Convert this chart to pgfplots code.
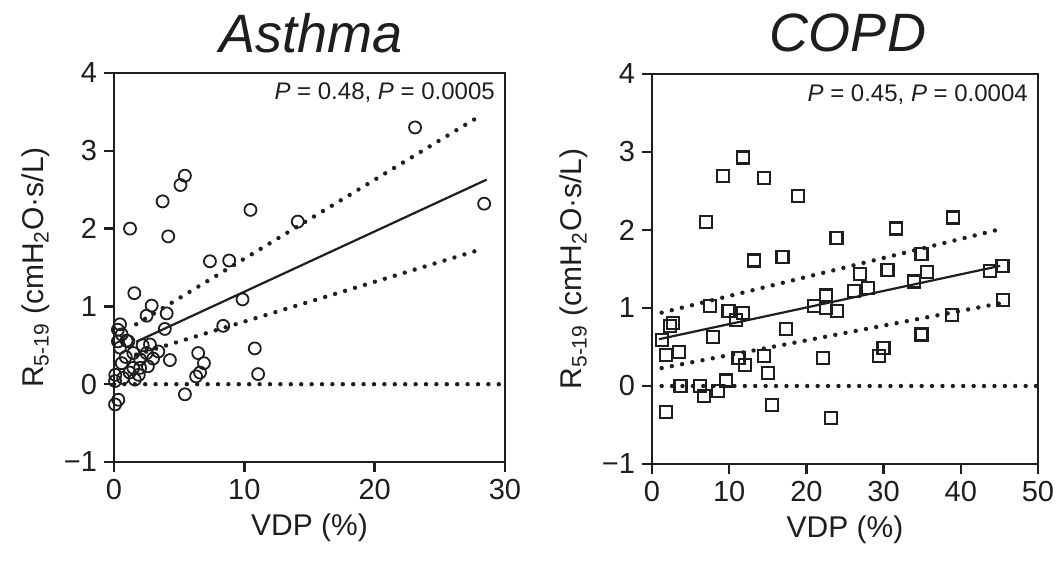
\documentclass[border=0pt]{standalone}
\usepackage{fontspec}
\setmainfont{Liberation Sans}
\usepackage{pgfplots}
\pgfplotsset{compat=1.18}
\definecolor{ink}{HTML}{1E1E1E}

\pgfplotsset{
  panel/.style={
    scale only axis, axis line style={ink, line width=1.3pt},
    tick align=outside, xtick pos=bottom, ytick pos=left,
    major tick length=5pt, tick style={ink, line width=1.2pt},
    ymin=-1, ymax=4, ytick={-1,0,...,4}, yticklabels={−1,0,1,2,3,4},
    tick label style={font=\fontsize{14.5}{16}\selectfont, text=ink},
    label style={font=\fontsize{15}{17}\selectfont, text=ink},
    /pgf/number format/assume math mode=true,
    clip=false,
    xlabel={VDP (\%)},
    ylabel={R\textsubscript{5-19} (cmH\textsubscript{2}O·s/L)},
  },
  dots/.style={ink, line width=2.2pt, dash pattern=on 0pt off 5.2pt, line cap=round},
  fit/.style={ink, line width=1.1pt},
}

\begin{document}
\begin{tikzpicture}
\path[use as bounding box] (0,0) rectangle (528.5pt,-282.5pt);

\node[font=\fontsize{27}{30}\selectfont\itshape, text=ink] at (155.5pt,-16.5pt) {Asthma};
\node[font=\fontsize{27}{30}\selectfont\itshape, text=ink] at (424pt,-16.5pt) {COPD};

\begin{axis}[panel, at={(57pt,-231pt)}, anchor=south west, width=195.5pt, height=194.5pt,
  xmin=0, xmax=30, xtick={0,10,20,30}]
\addplot[dots] coordinates {(0,0) (30,0)};
\addplot[dots] coordinates {(1.7,0.77) (27.9,3.43)};
\addplot[dots] coordinates {(1.7,0.38) (27.9,1.72)};
\addplot[fit] coordinates {(1.7,0.545) (28.6,2.63)};
\addplot[only marks, mark=o, mark size=3pt, mark options={ink, line width=0.9pt}] coordinates {
 (23.1,3.30) (28.4,2.32) (5.44,2.68) (5.1,2.56) (3.73,2.35) (1.23,2.00) (4.16,1.90)
 (10.47,2.24) (14.1,2.09) (7.36,1.58) (8.84,1.59) (1.56,1.17) (9.86,1.09) (2.89,1.01)
 (4.04,0.91) (2.5,0.88) (3.9,0.71) (8.38,0.75) (0.46,0.77) (0.59,0.64) (1.1,0.55)
 (2.76,0.51) (3.4,0.42) (2.5,0.40) (0.46,0.47) (1.48,0.40) (2.0,0.32) (2.6,0.23)
 (0.59,0.27) (1.48,0.21) (4.29,0.31) (6.46,0.40) (6.9,0.27) (6.6,0.15) (6.3,0.10)
 (1.6,0.06) (0.08,0.04) (0.1,0.12) (0.33,-0.20) (0.08,-0.26) (5.44,-0.13) (10.8,0.46)
 (11.06,0.13) (0.3,0.55) (0.9,0.35) (1.9,0.12) (0.3,0.70) (1.2,0.15) (3.0,0.33)
 (0.7,0.08) (2.2,0.50) (0.97,0.56) (2.0,0.21)
};
\node[anchor=north east, font=\fontsize{12}{14}\selectfont, text=ink, inner sep=2pt]
  at (rel axis cs:0.985,0.985) {\textit{P} = 0.48, \textit{P} = 0.0005};
\end{axis}

\begin{axis}[panel, at={(326pt,-232pt)}, anchor=south west, width=193pt, height=195pt,
  xmin=0, xmax=50, xtick={0,10,20,30,40,50}]
\addplot[dots] coordinates {(1.25,0) (50,0)};
\addplot[dots] coordinates {(1.25,0.94) (45.1,2.01)};
\addplot[dots] coordinates {(1.25,0.23) (45.1,1.06)};
\addplot[fit] coordinates {(0.9,0.60) (45.1,1.54)};
\addplot[only marks, mark=square, mark size=3pt, mark options={ink, line width=1.1pt}] coordinates {
 (11.83,2.93) (9.24,2.69) (14.55,2.67) (18.96,2.44) (7.0,2.10) (38.95,2.16) (31.6,2.02)
 (23.9,1.90) (13.2,1.61) (16.9,1.65) (45.4,1.54) (43.8,1.47) (34.9,1.69) (35.6,1.46)
 (33.9,1.34) (30.5,1.49) (26.9,1.44) (28.0,1.26) (26.2,1.22) (22.5,1.16) (21.0,1.03)
 (22.5,1.00) (24.0,0.96) (7.5,1.03) (9.9,0.96) (11.8,0.94) (10.9,0.85) (2.33,0.77)
 (2.76,0.81) (1.25,0.59) (17.4,0.73) (7.9,0.63) (38.9,0.91) (34.9,0.66) (45.5,1.10)
 (1.8,0.40) (3.54,0.44) (11.2,0.36) (12.05,0.27) (14.55,0.38) (15.07,0.17) (22.1,0.36)
 (30.0,0.49) (29.4,0.38) (3.7,0.0) (6.2,0.0) (6.7,-0.13) (8.5,-0.06) (9.6,0.07)
 (15.5,-0.24) (1.8,-0.33) (23.2,-0.41)
};
\node[anchor=north east, font=\fontsize{12}{14}\selectfont, text=ink, inner sep=2pt]
  at (rel axis cs:0.985,0.985) {\textit{P} = 0.45, \textit{P} = 0.0004};
\end{axis}
\end{tikzpicture}
\end{document}
